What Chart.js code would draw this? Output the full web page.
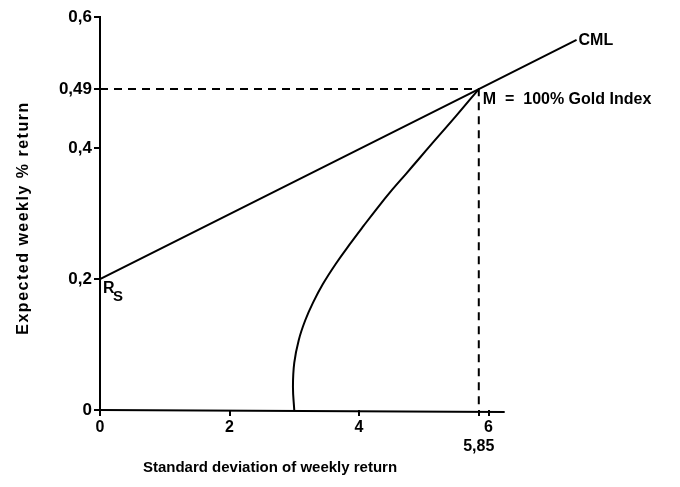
<!DOCTYPE html>
<html>
<head>
<meta charset="utf-8">
<script src="https://cdn.jsdelivr.net/npm/chart.js@4"></script>
<style>
  html,body{margin:0;padding:0;background:#fff;}
  #wrap{width:680px;height:487px;}
</style>
</head>
<body>
<div id="wrap"><canvas id="c"></canvas></div>
<script>
const xTicks = [0, 2, 4, 5.85, 6];
const yTicks = [0, 0.2, 0.4, 0.49, 0.6];
const rf = 0.2;                       // R_S
const market = {sd: 5.85, ret: 0.49};  // M
const cmlEnd = {sd: 7.36, ret: 0.565};
const frontierSd  = [3.00, 2.98, 3.00, 3.07, 3.17, 3.29, 3.44, 3.64, 3.85, 4.07, 4.28, 4.51, 4.73, 4.93, 5.13, 5.50, 5.85];
const frontierRet = [0, 0.035, 0.072, 0.107, 0.137, 0.164, 0.192, 0.223, 0.252, 0.281, 0.308, 0.336, 0.361, 0.384, 0.407, 0.449, 0.49];

const FONT = '"Liberation Sans", Arial, sans-serif';
const comma = v => String(v).replace('.', ',');

const frontier = frontierSd.map((s, i) => ({x: s, y: frontierRet[i]}));
const line = (data, extra) => Object.assign({
  data, borderColor: '#000', borderWidth: 2, pointRadius: 0, fill: false, showLine: true
}, extra || {});

const annotate = {
  id: 'annotate',
  afterDraw(chart) {
    const {ctx, scales: {x, y}} = chart;
    ctx.save();
    ctx.fillStyle = '#000';
    ctx.strokeStyle = '#000';
    // x axis line
    ctx.lineWidth = 2;
    ctx.beginPath();
    ctx.moveTo(x.getPixelForValue(0), y.getPixelForValue(0));
    ctx.lineTo(x.getPixelForValue(6.25), y.getPixelForValue(0) + 2);
    ctx.stroke();

    ctx.font = 'bold 16px ' + FONT;
    ctx.textBaseline = 'middle';
    ctx.textAlign = 'left';
    ctx.fillText('CML', x.getPixelForValue(cmlEnd.sd) + 2, y.getPixelForValue(cmlEnd.ret) + 1);
    ctx.fillText('M  =  100% Gold Index', x.getPixelForValue(market.sd) + 4, y.getPixelForValue(market.ret) + 11);
    const rx = x.getPixelForValue(0) + 3, ry = y.getPixelForValue(rf) + 10;
    ctx.font = 'bold 16px ' + FONT;
    ctx.fillText('R', rx, ry);
    ctx.font = 'bold 15px ' + FONT;
    ctx.fillText('S', rx + 10, ry + 8);

    // axis titles
    ctx.font = 'bold 15px ' + FONT;
    ctx.textAlign = 'center';
    ctx.fillText('Standard deviation of weekly return', 270, 468);
    ctx.font = 'bold 16px ' + FONT;
    ctx.letterSpacing = '1.5px';
    ctx.translate(24, 218);
    ctx.rotate(-Math.PI / 2);
    ctx.fillText('Expected weekly % return', 0, 0);
    ctx.restore();
  }
};

new Chart(document.getElementById('c'), {
  type: 'scatter',
  data: {
    datasets: [
      line([{x: 0, y: rf}, {x: market.sd, y: market.ret}, {x: cmlEnd.sd, y: cmlEnd.ret}]),
      line(frontier, {tension: 0.4}),
      line([{x: 0, y: market.ret}, {x: market.sd, y: market.ret}, {x: market.sd, y: 0}],
           {borderDash: [8, 6], borderWidth: 2})
    ]
  },
  options: {
    responsive: true,
    maintainAspectRatio: false,
    animation: false,
    layout: {padding: {top: 17, right: 62, left: 0, bottom: 0}},
    plugins: {legend: {display: false}, tooltip: {enabled: false}},
    scales: {
      x: {
        type: 'linear', min: 0, max: 8,
        afterBuildTicks: s => { s.ticks = xTicks.map(v => ({value: v})); },
        afterFit: s => { s.height = 77; },
        border: {display: false},
        grid: {drawOnChartArea: false, drawTicks: true, tickLength: 6, color: '#000', lineWidth: 2},
        ticks: {
          color: '#000', padding: 2, maxRotation: 0, autoSkip: false,
          font: {family: FONT, size: 16, weight: 'bold'},
          callback: v => v === 5.85 ? ['', '5,85'] : comma(v)
        }
      },
      y: {
        type: 'linear', min: 0, max: 0.6,
        afterBuildTicks: s => { s.ticks = yTicks.map(v => ({value: v})); },
        afterFit: s => { s.width = 100; },
        border: {display: true, color: '#000', width: 2},
        grid: {drawOnChartArea: false, drawTicks: true, tickLength: 6, color: '#000', lineWidth: 2},
        ticks: {
          color: '#000', padding: 2, autoSkip: false,
          font: {family: FONT, size: 17, weight: 'bold'},
          callback: v => comma(v)
        }
      }
    }
  },
  plugins: [annotate]
});
</script>
</body>
</html>
